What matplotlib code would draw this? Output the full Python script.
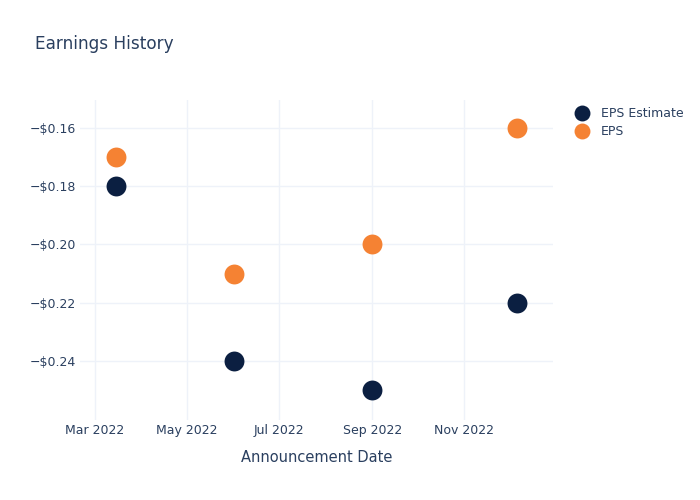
"""Earnings history scatter chart (EPS vs estimate)."""

import matplotlib
matplotlib.use('Agg')
import matplotlib.pyplot as plt
import matplotlib.dates as mdates
import matplotlib.ticker as mticker
import pandas as pd

# Data
dates = ['2022-03-15', '2022-06-01', '2022-09-01', '2022-12-06']
eps_estimate = [-0.18, -0.24, -0.25, -0.22]
eps_actual = [-0.17, -0.21, -0.20, -0.16]
y_ticks = [-0.24, -0.22, -0.20, -0.18, -0.16]

TEXT = '#2a3f5f'
GRID = '#eef2f9'
NAVY = '#0b1f41'
ORANGE = '#f58233'

x = pd.to_datetime(dates)

fig = plt.figure(figsize=(7, 5), dpi=100)
ax = fig.add_axes([80 / 700, 1 - 420 / 500, (553 - 80) / 700, 320 / 500])

ax.scatter(x, eps_estimate, s=205, color=NAVY, label='EPS Estimate', zorder=3, linewidths=0)
ax.scatter(x, eps_actual, s=205, color=ORANGE, label='EPS', zorder=3, linewidths=0)

ax.set_xlim(pd.Timestamp('2022-02-19'), pd.Timestamp('2022-12-30'))
ax.set_ylim(-0.26034, -0.15034)

ax.set_yticks(y_ticks)
ax.yaxis.set_major_formatter(mticker.FuncFormatter(
    lambda v, _: ('\u2212' if v < 0 else '') + '$%.2f' % abs(v)))
ax.xaxis.set_major_locator(mdates.MonthLocator(bymonth=[3, 5, 7, 9, 11]))
ax.xaxis.set_major_formatter(mdates.DateFormatter('%b %Y'))

ax.grid(True, color=GRID, linewidth=1)
ax.set_axisbelow(True)
for spine in ax.spines.values():
    spine.set_visible(False)
ax.tick_params(length=0, colors=TEXT, labelsize=9)
ax.tick_params(axis='y', pad=3)
ax.tick_params(axis='x', pad=3)

ax.set_xlabel('Announcement Date', fontsize=10.5, color=TEXT, labelpad=9)

fig.text(35 / 700, 1 - 44 / 500, 'Earnings History', fontsize=12.2, color=TEXT,
         va='center', ha='left')

leg = ax.legend(loc='upper left', bbox_to_anchor=(1.025, 0.995), frameon=False,
                fontsize=9, labelcolor=TEXT, handletextpad=0.5, borderaxespad=0,
                labelspacing=0.4, markerscale=0.8)

plt.savefig('out.png', dpi=100, facecolor='white')
plt.close()
